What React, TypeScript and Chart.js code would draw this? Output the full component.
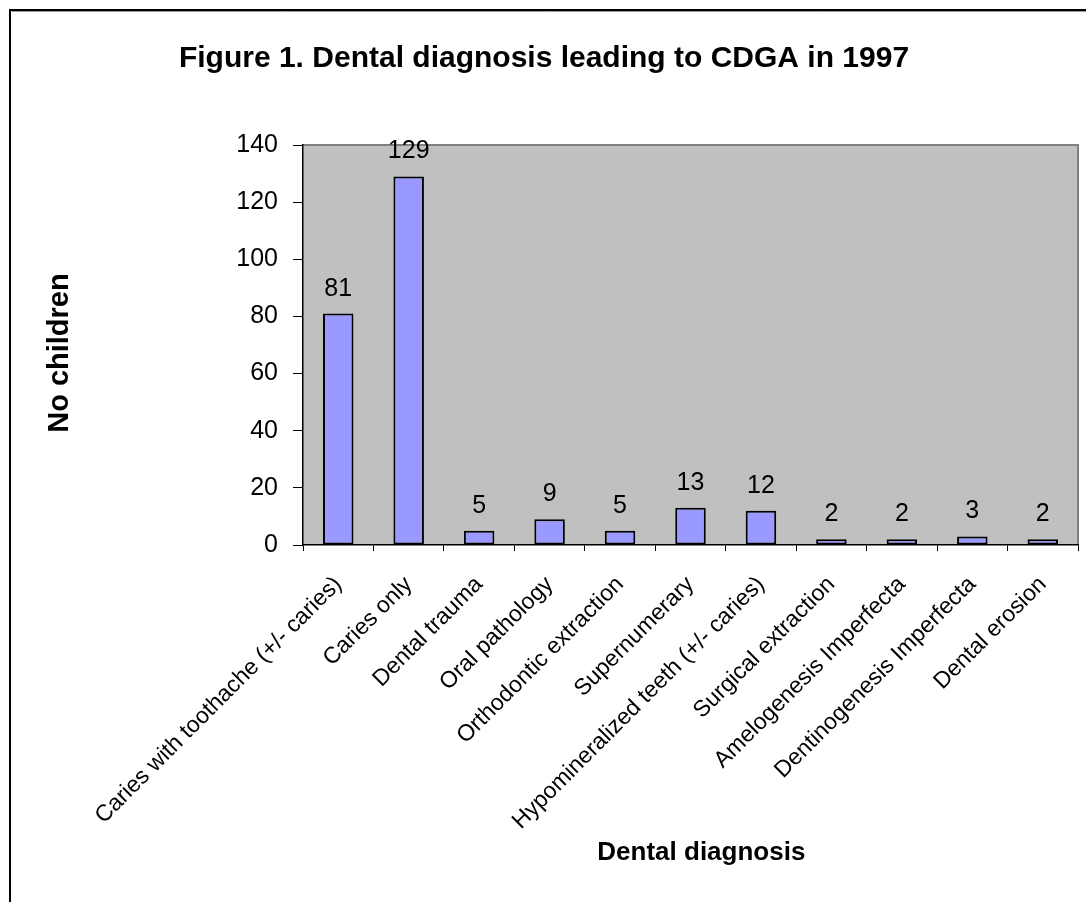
import React, { useEffect, useRef } from 'react';
import { Chart, registerables } from 'chart.js';

Chart.register(...registerables);

const titleText = 'Figure 1. Dental diagnosis leading to CDGA in 1997';
const xTitle = 'Dental diagnosis';
const yTitle = 'No children';

const categories = [
  'Caries with toothache (+/- caries)',
  'Caries only',
  'Dental trauma',
  'Oral pathology',
  'Orthodontic extraction',
  'Supernumerary',
  'Hypomineralized teeth (+/- caries)',
  'Surgical extraction',
  'Amelogenesis Imperfecta',
  'Dentinogenesis Imperfecta',
  'Dental erosion',
];

const values = [81, 129, 5, 9, 5, 13, 12, 2, 2, 3, 2];

const yMin = 0;
const yMax = 140;
const yStep = 20;

const FONT = '"Liberation Sans", Arial, Helvetica, sans-serif';
const NB = '\u00a0';

const framePlugin = {
  id: 'frame',
  beforeDraw(chart: any) {
    const { ctx, chartArea, width, height } = chart;
    ctx.save();
    ctx.fillStyle = '#ffffff';
    ctx.fillRect(0, 0, width, height);
    // outer frame (top and left visible)
    ctx.strokeStyle = '#000000';
    ctx.lineWidth = 2;
    ctx.beginPath();
    ctx.moveTo(10, height + 5);
    ctx.lineTo(10, 10);
    ctx.lineTo(width + 5, 10);
    ctx.stroke();
    ctx.strokeStyle = '#9a9a9a';
    ctx.lineWidth = 1;
    ctx.beginPath();
    ctx.moveTo(11.5, 11.5);
    ctx.lineTo(width + 5, 11.5);
    ctx.stroke();
    // plot area
    ctx.fillStyle = '#c0c0c0';
    ctx.fillRect(chartArea.left, chartArea.top, chartArea.right - chartArea.left, chartArea.bottom - chartArea.top);
    ctx.strokeStyle = '#808080';
    ctx.lineWidth = 2;
    ctx.beginPath();
    ctx.moveTo(chartArea.left, chartArea.top);
    ctx.lineTo(chartArea.right, chartArea.top);
    ctx.lineTo(chartArea.right, chartArea.bottom);
    ctx.stroke();
    ctx.restore();
  },
};

const valueLabelPlugin = {
  id: 'valueLabels',
  afterDatasetsDraw(chart: any) {
    const { ctx } = chart;
    const meta = chart.getDatasetMeta(0);
    const data = chart.data.datasets[0].data;
    ctx.save();
    ctx.fillStyle = '#000000';
    ctx.font = `25px ${FONT}`;
    ctx.textAlign = 'center';
    ctx.textBaseline = 'alphabetic';
    meta.data.forEach((bar: any, i: number) => {
      ctx.fillText(String(data[i]), bar.x, bar.y - 18);
    });
    ctx.restore();
  },
};

export default function App() {
  const canvasRef = useRef<HTMLCanvasElement | null>(null);

  useEffect(() => {
    const canvas = canvasRef.current;
    if (!canvas) return;
    Chart.defaults.font.family = FONT;
    Chart.defaults.color = '#000000';
    const chart = new Chart(canvas, {
      type: 'bar',
      data: {
        labels: categories,
        datasets: [
          {
            data: values,
            backgroundColor: '#9999ff',
            borderColor: '#000000',
            borderWidth: 2,
            borderSkipped: false,
            barPercentage: 0.433,
            categoryPercentage: 1,
          },
        ],
      },
      options: {
        responsive: false,
        animation: false,
        events: [],
        layout: { padding: { left: 10, right: 8, top: 0, bottom: 0 } },
        plugins: {
          legend: { display: false },
          tooltip: { enabled: false },
          title: {
            display: true,
            text: titleText,
            color: '#000000',
            font: { size: 30, weight: 'bold', family: FONT },
            padding: { top: 41, bottom: 68 },
          },
        },
        scales: {
          x: {
            grid: {
              display: true,
              drawOnChartArea: false,
              offset: true,
              tickLength: 6,
              color: '#000000',
              lineWidth: 1,
            },
            border: { display: true, color: '#000000', width: 1.5 },
            ticks: {
              autoSkip: false,
              maxRotation: 45,
              minRotation: 45,
              color: '#000000',
              font: { size: 23, family: FONT },
              padding: 20,
            },
            title: {
              display: true,
              text: NB + NB + NB + xTitle,
              color: '#000000',
              font: { size: 26, weight: 'bold', family: FONT },
              padding: { top: 0, bottom: 34 },
            },
            afterFit: (s: any) => {
              s.height = 357;
            },
          },
          y: {
            min: yMin,
            max: yMax,
            grid: {
              display: true,
              drawOnChartArea: false,
              tickLength: 10,
              color: '#000000',
              lineWidth: 1,
            },
            border: { display: true, color: '#000000', width: 1.5 },
            ticks: {
              stepSize: yStep,
              color: '#000000',
              font: { size: 25, family: FONT },
              padding: 15,
            },
            title: {
              display: true,
              text: yTitle + NB + NB,
              color: '#000000',
              font: { size: 29, weight: 'bold', family: FONT },
              padding: { top: 33, bottom: 0 },
            },
            afterFit: (s: any) => {
              s.width = 293;
            },
          },
        },
      },
      plugins: [framePlugin, valueLabelPlugin],
    });
    return () => chart.destroy();
  }, []);

  return (
    <div
      style={{
        position: 'fixed',
        left: 0,
        top: 0,
        width: 1086,
        height: 902,
        overflow: 'hidden',
        background: '#ffffff',
      }}
    >
      <canvas ref={canvasRef} width={1086} height={902} style={{ display: 'block' }} />
    </div>
  );
}
